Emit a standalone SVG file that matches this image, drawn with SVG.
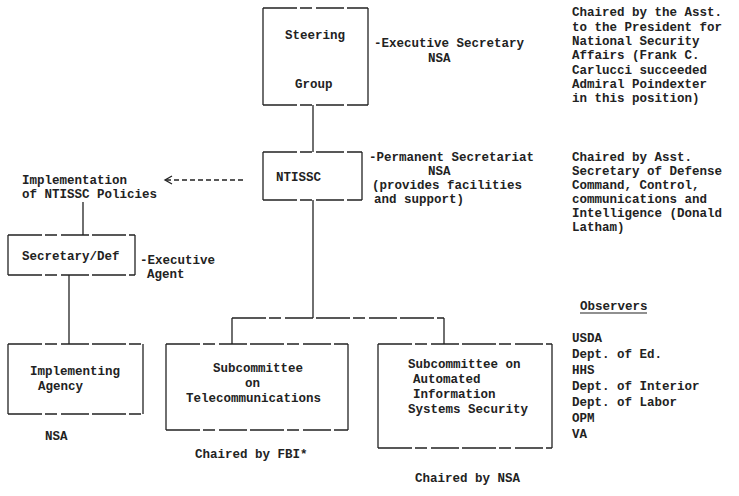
<svg xmlns="http://www.w3.org/2000/svg" width="739" height="496" viewBox="0 0 739 496">
<style>
text{font-family:"Liberation Mono","DejaVu Sans Mono",monospace;font-size:12.5px;font-weight:bold;fill:#222}
.side{stroke:#222;stroke-width:1.3;fill:none}
.dash{stroke:#222;stroke-width:1.3;fill:none;stroke-dasharray:34 3 12 4 28 3}
.conn{stroke:#222;stroke-width:1.3;fill:none}
.arrow{stroke:#222;stroke-width:1.3;fill:none;stroke-dasharray:5 3}
</style>
<defs>
<marker id="chev" markerWidth="10" markerHeight="10" refX="8" refY="5" orient="auto" markerUnits="userSpaceOnUse">
<path d="M1,1 L8,5 L1,9" fill="none" stroke="#222" stroke-width="1.3"/>
</marker>
</defs>
<rect width="739" height="496" fill="#fff"/>
<g id="connectors">
<line class="conn" x1="313" y1="105" x2="313" y2="152"/>
<line class="conn" x1="313" y1="200" x2="313" y2="318"/>
<line class="dash" x1="232" y1="318" x2="444" y2="318"/>
<line class="conn" x1="232" y1="318" x2="232" y2="344"/>
<line class="conn" x1="444" y1="318" x2="444" y2="344"/>
<line class="arrow" x1="243" y1="180" x2="165" y2="180" marker-end="url(#chev)"/>
<line class="conn" x1="83" y1="202" x2="83" y2="235"/>
<line class="conn" x1="69" y1="275" x2="69" y2="344"/>
</g>
<g id="steering">
<line class="dash" x1="263" y1="8" x2="368" y2="8"/>
<line class="dash" x1="263" y1="105" x2="368" y2="105"/>
<line class="side" x1="263" y1="8" x2="263" y2="105"/>
<line class="side" x1="368" y1="8" x2="368" y2="105"/>
<text x="285" y="39">Steering</text>
<text x="295" y="88">Group</text>
</g>
<g id="ntissc">
<line class="dash" x1="263" y1="152" x2="362" y2="152"/>
<line class="dash" x1="263" y1="200" x2="362" y2="200"/>
<line class="side" x1="263" y1="152" x2="263" y2="200"/>
<line class="side" x1="362" y1="152" x2="362" y2="200"/>
<text x="276" y="181">NTISSC</text>
</g>
<g id="implementation">
<text x="22" y="184">Implementation</text>
<text x="22" y="198">of NTISSC Policies</text>
</g>
<g id="secdef">
<line class="dash" x1="8" y1="235" x2="135" y2="235"/>
<line class="dash" x1="8" y1="275" x2="135" y2="275"/>
<line class="side" x1="8" y1="235" x2="8" y2="275"/>
<line class="side" x1="135" y1="235" x2="135" y2="275"/>
<text x="22" y="260">Secretary/Def</text>
</g>
<g id="implementing">
<line class="dash" x1="8" y1="344" x2="143" y2="344"/>
<line class="dash" x1="8" y1="414" x2="143" y2="414"/>
<line class="side" x1="8" y1="344" x2="8" y2="414"/>
<line class="side" x1="143" y1="344" x2="143" y2="414"/>
<text x="30" y="375">Implementing</text>
<text x="38" y="390">Agency</text>
</g>
<g id="telecom">
<line class="dash" x1="166" y1="344" x2="348" y2="344"/>
<line class="dash" x1="166" y1="430" x2="348" y2="430"/>
<line class="side" x1="166" y1="344" x2="166" y2="430"/>
<line class="side" x1="348" y1="344" x2="348" y2="430"/>
<text x="213" y="372">Subcommittee</text>
<text x="245" y="387">on</text>
<text x="186" y="402">Telecommunications</text>
</g>
<g id="ais">
<line class="dash" x1="378" y1="344" x2="552" y2="344"/>
<line class="dash" x1="378" y1="448" x2="552" y2="448"/>
<line class="side" x1="378" y1="344" x2="378" y2="448"/>
<line class="side" x1="552" y1="344" x2="552" y2="448"/>
<text x="408" y="368">Subcommittee on</text>
<text x="413" y="383">Automated</text>
<text x="413" y="398">Information</text>
<text x="408" y="413">Systems Security</text>
</g>
<g id="annotations">
<text x="374" y="47">-Executive Secretary</text>
<text x="428" y="62">NSA</text>
<text x="572" y="16">Chaired by the Asst.</text>
<text x="572" y="31">to the President for</text>
<text x="572" y="45">National Security</text>
<text x="572" y="59">Affairs (Frank C.</text>
<text x="572" y="74">Carlucci succeeded</text>
<text x="572" y="88">Admiral Poindexter</text>
<text x="572" y="102">in this position)</text>
<text x="369" y="161">-Permanent Secretariat</text>
<text x="428" y="175">NSA</text>
<text x="372" y="189">(provides facilities</text>
<text x="374" y="203">and support)</text>
<text x="572" y="161">Chaired by Asst.</text>
<text x="572" y="175">Secretary of Defense</text>
<text x="572" y="189">Command, Control,</text>
<text x="572" y="203">communications and</text>
<text x="572" y="217">Intelligence (Donald</text>
<text x="572" y="231">Latham)</text>
<text x="140" y="264">-Executive</text>
<text x="147" y="278">Agent</text>
<text x="45" y="440">NSA</text>
<text x="195" y="458">Chaired by FBI*</text>
<text x="415" y="482">Chaired by NSA</text>
<text x="580" y="310">Observers</text>
<line x1="580" y1="313" x2="647" y2="313" stroke="#222" stroke-width="1.2"/>
<text x="572" y="342">USDA</text>
<text x="572" y="358">Dept. of Ed.</text>
<text x="572" y="374">HHS</text>
<text x="572" y="390">Dept. of Interior</text>
<text x="572" y="406">Dept. of Labor</text>
<text x="572" y="422">OPM</text>
<text x="572" y="438">VA</text>
</g>
</svg>
